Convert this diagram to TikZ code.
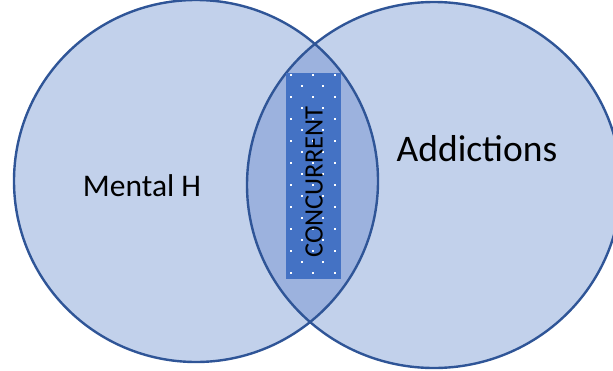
\documentclass[tikz,border=0pt]{standalone}
\usepackage{fontspec}
\setmainfont{Carlito}
\definecolor{circfill}{HTML}{C2D1EB}
\definecolor{lensfill}{HTML}{9CB2DE}
\definecolor{edgeblue}{HTML}{2F5597}
\definecolor{barfill}{HTML}{4472C4}
\tikzset{
  circleedge/.style={draw=edgeblue,line width=2.4pt},
  dotfill/.style={fill=white},
  lbl/.style={text=black,anchor=base,inner sep=0pt}
}
\begin{document}
\begin{tikzpicture}[x=1pt,y=-1pt]
\useasboundingbox (0,0) rectangle (613,370);
\clip (0,0) rectangle (613,370);
% circle fills
\fill[circfill] (196,181) ellipse [x radius=182pt,y radius=181pt];
\fill[circfill] (434,185) ellipse [x radius=187pt,y radius=183pt];
\begin{scope}
  \clip (196,181) ellipse [x radius=182pt,y radius=181pt];
  \fill[lensfill] (434,185) ellipse [x radius=187pt,y radius=183pt];
\end{scope}
% outlines
\path[circleedge] (196,181) ellipse [x radius=182pt,y radius=181pt];
\path[circleedge] (434,185) ellipse [x radius=187pt,y radius=183pt];
% dotted bar
\fill[barfill] (286,73) rectangle (341,279);
\foreach \k in {0,2,...,18} {
  \foreach \x in {290.7,312.7,335} {
    \fill[dotfill] (\x-1,{74.7+11*\k-1}) rectangle ++(2,2);
  }
}
\foreach \k in {1,3,...,17} {
  \foreach \x in {301.7,323.3} {
    \fill[dotfill] (\x-1,{74.7+11*\k-1}) rectangle ++(2,2);
  }
}
% labels
\node[lbl,font=\fontsize{31.5}{38}\selectfont] (mh) at (142,196.5) {Mental H};
\node[lbl,font=\fontsize{37.5}{45}\selectfont] (ad) at (477,161.5) {Addictions};
\node[lbl,font=\fontsize{26.5}{32}\selectfont,rotate=90] (cc) at (322.5,182) {CONCURRENT};
\end{tikzpicture}
\end{document}
